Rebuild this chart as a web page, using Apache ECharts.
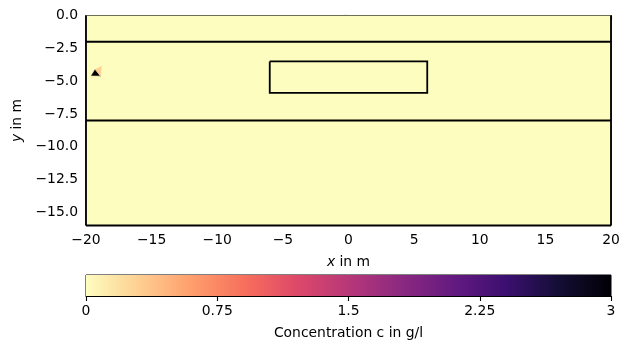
<!DOCTYPE html>
<html><head><meta charset="utf-8">
<script src="https://cdn.jsdelivr.net/npm/echarts@6/dist/echarts.min.js"></script>
<style>html,body{margin:0;padding:0;background:#fff}#c{width:629px;height:348px}</style>
</head><body><div id="c"></div><script>
// ---- data ----
const xTicks = [-20, -15, -10, -5, 0, 5, 10, 15, 20];
const yTicks = [0, -2.5, -5, -7.5, -10, -12.5, -15];
const cbTicks = [0, 0.75, 1.5, 2.25, 3];
// mesh nodes (m)
const nodeX = [-20, 20, 20, -20, -19.6, -19.3, -18.9, -18.82, -19.6];
const nodeY = [0, 0, -16, -16, -4.6, -4.12, -4.62, -3.88, -4.8];
// cells as node index lists and their concentration (g/l)
const cells = [[0, 1, 2, 3], [4, 5, 6], [5, 7, 6], [4, 6, 8]];
const cellValues = [0, 3, 0.3, 0.05];
// boundary polylines
const lineX = [[-20, 20], [-20, 20], [-6, 6, 6, -6, -6], [-20, -20], [20, 20], [-20, 20]];
const lineY = [[-2, -2], [-8, -8], [-3.5, -3.5, -5.9, -5.9, -3.5], [0, -16], [0, -16], [-16, -16]];
const cMin = 0, cMax = 3;
// magma colormap (reversed use)
const magma = ['#000004','#140e36','#3b0f70','#641a80','#8c2981','#b73779','#de4968','#f7705c','#fe9f6d','#fecf92','#fcfdbf'];

function hex2rgb(h){return [parseInt(h.slice(1,3),16),parseInt(h.slice(3,5),16),parseInt(h.slice(5,7),16)];}
function colorOf(v){
  let t = 1 - (v - cMin) / (cMax - cMin);
  t = Math.max(0, Math.min(1, t));
  const p = t * (magma.length - 1), i = Math.min(Math.floor(p), magma.length - 2), f = p - i;
  const a = hex2rgb(magma[i]), b = hex2rgb(magma[i + 1]);
  return 'rgb(' + a.map((x, k) => Math.round(x + (b[k] - x) * f)).join(',') + ')';
}
const fmtMinus = (v, d) => (v < 0 ? '\u2212' : '') + (d == null ? String(Math.abs(v)) : Math.abs(v).toFixed(d));
const font = 'DejaVu Sans';
const fs = 13.9;

const chart = echarts.init(document.getElementById('c'), null, {renderer: 'canvas'});
const gradStops = [];
for (let k = 0; k <= 30; k++) { const v = cMin + (cMax - cMin) * k / 30; gradStops.push({offset: k / 30, color: colorOf(v)}); }

chart.setOption({
  animation: false,
  textStyle: {fontFamily: font, color: '#000'},
  grid: [
    {left: 86, top: 15.5, width: 525, height: 210, show: true, borderColor: '#000', borderWidth: 1, backgroundColor: 'transparent'},
    {left: 86, top: 275, width: 525, height: 21, show: true, borderColor: '#000', borderWidth: 1}
  ],
  xAxis: [
    {gridIndex: 0, type: 'value', min: -20, max: 20, interval: 5,
     axisLine: {show: true, lineStyle: {color: '#000', width: 1}},
     axisTick: {show: true, length: 5, lineStyle: {color: '#000', width: 1.1}},
     axisLabel: {fontSize: fs, fontFamily: font, color: '#000', margin: 8, formatter: v => fmtMinus(v)},
     splitLine: {show: false},
     name: '{i|x} in m', nameLocation: 'middle', nameGap: 30,
     nameTextStyle: {fontSize: fs, fontFamily: font, color: '#000', rich: {i: {fontStyle: 'italic', fontSize: fs, fontFamily: font}}}},
    {gridIndex: 1, type: 'value', min: cMin, max: cMax, interval: 0.75,
     axisLine: {show: true, lineStyle: {color: '#000', width: 1}},
     axisTick: {show: true, length: 5, lineStyle: {color: '#000', width: 1.1}},
     axisLabel: {fontSize: fs, fontFamily: font, color: '#000', margin: 8, formatter: v => String(v)},
     splitLine: {show: false},
     name: 'Concentration c in g/l', nameLocation: 'middle', nameGap: 30,
     nameTextStyle: {fontSize: fs, fontFamily: font, color: '#000'}}
  ],
  yAxis: [
    {gridIndex: 0, type: 'value', min: -16, max: 0,
     axisLine: {show: true, lineStyle: {color: '#000', width: 1}},
     axisTick: {show: true, length: 5, customValues: yTicks, lineStyle: {color: '#000', width: 1.1}},
     axisLabel: {fontSize: fs, fontFamily: font, color: '#000', margin: 8, customValues: yTicks, formatter: v => fmtMinus(v, 1)},
     splitLine: {show: false},
     name: '{i|y} in m', nameLocation: 'middle', nameGap: 58,
     nameTextStyle: {fontSize: fs, fontFamily: font, color: '#000', rich: {i: {fontStyle: 'italic', fontSize: fs, fontFamily: font}}}},
    {gridIndex: 1, type: 'value', min: 0, max: 1, show: false}
  ],
  series: [
    {type: 'custom', xAxisIndex: 0, yAxisIndex: 0, clip: true, z: 1,
     data: cells.map((c, i) => [nodeX[c[0]], nodeY[c[0]], i]),
     encode: {x: 0, y: 1},
     renderItem: function (params, api) {
       const i = api.value(2);
       const pts = cells[i].map(n => api.coord([nodeX[n], nodeY[n]]));
       const col = colorOf(cellValues[i]);
       return {type: 'polygon', shape: {points: pts}, style: {fill: col, stroke: col, lineWidth: 0.5}};
     }},
    {type: 'custom', xAxisIndex: 0, yAxisIndex: 0, clip: false, z: 5,
     data: lineX.map((l, i) => [l[0], lineY[i][0], i]),
     encode: {x: 0, y: 1},
     renderItem: function (params, api) {
       const i = api.value(2);
       const pts = lineX[i].map((x, k) => api.coord([x, lineY[i][k]]));
       return {type: 'polyline', shape: {points: pts}, style: {stroke: '#000', lineWidth: 1.8, fill: null}};
     }},
    {type: 'custom', xAxisIndex: 1, yAxisIndex: 1, clip: false, z: 1,
     data: [[cMin, 0, cMax, 1]],
     renderItem: function (params, api) {
       const p0 = api.coord([api.value(0), api.value(3)]);
       const p1 = api.coord([api.value(2), api.value(1)]);
       return {type: 'rect', shape: {x: p0[0], y: p0[1], width: p1[0] - p0[0], height: p1[1] - p0[1]},
         style: {fill: new echarts.graphic.LinearGradient(0, 0, 1, 0, gradStops)}};
     }}
  ]
});
</script></body></html>
